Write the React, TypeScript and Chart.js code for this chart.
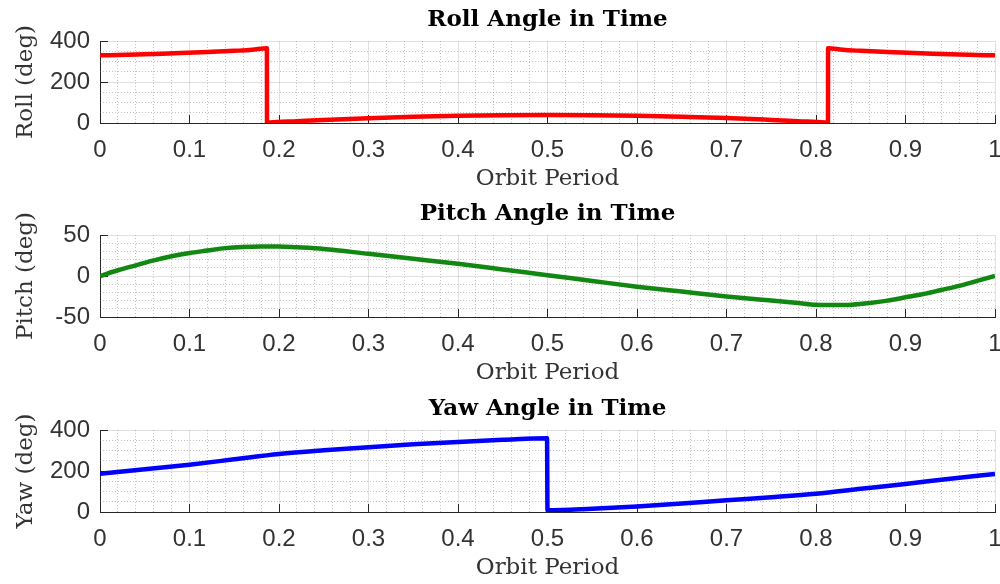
import { useEffect, useRef } from "react";
import { Chart, registerables } from "chart.js";

Chart.register(...registerables);

// Shared time axis labels (fraction of one orbit)
const orbitTicks = ["0", "0.1", "0.2", "0.3", "0.4", "0.5", "0.6", "0.7", "0.8", "0.9", "1"];

// Roll angle (deg) against orbit period
const rollT = [
  0, 0.03, 0.06, 0.09, 0.12, 0.15, 0.17, 0.1865,
  0.1866, 0.19, 0.22, 0.25, 0.3, 0.35, 0.4, 0.45, 0.5, 0.55, 0.6, 0.65, 0.7, 0.75, 0.78, 0.81, 0.8134,
  0.8135, 0.83, 0.85, 0.88, 0.91, 0.94, 0.97, 1,
];
const rollDeg = [
  330, 333, 337, 341, 346, 352, 357, 365,
  2, 3, 9, 15, 23, 30, 35, 38, 39, 38, 35, 30, 24, 15, 9, 3, 2,
  365, 357, 352, 346, 341, 337, 333, 330,
];
const rollTicks = ["0", "200", "400"];

// Pitch angle (deg) against orbit period
const pitchT = [
  0, 0.02, 0.04, 0.06, 0.08, 0.1, 0.12, 0.14, 0.16, 0.18, 0.2, 0.22, 0.25, 0.3, 0.35, 0.4, 0.45,
  0.5, 0.55, 0.6, 0.65, 0.7, 0.75, 0.78, 0.8, 0.82, 0.84, 0.86, 0.88, 0.9, 0.92, 0.94, 0.96, 0.98, 1,
];
const pitchDeg = [
  0, 7, 13, 19, 24, 28, 31, 34, 35.5, 36, 36, 35, 33, 27, 21, 15, 8,
  1, -6, -13, -19, -25, -30, -33, -35, -35.5, -35, -33, -30, -26, -22, -17, -12, -6, 0,
];
const pitchTicks = ["-50", "0", "50"];

// Yaw angle (deg) against orbit period
const yawT = [
  0, 0.05, 0.1, 0.15, 0.2, 0.25, 0.3, 0.35, 0.4, 0.45, 0.4995,
  0.5, 0.55, 0.6, 0.65, 0.7, 0.75, 0.8, 0.85, 0.9, 0.95, 1,
];
const yawDeg = [
  187, 208, 231, 257, 283, 301, 316, 330, 342, 352, 360,
  8, 16, 27, 41, 57, 72, 89, 113, 137, 162, 186,
];
const yawTicks = ["0", "200", "400"];

const INK = "#262626";
const LABEL = "#333333";

// Dotted minor grid plus inward-pointing major tick marks
const axesDecor = {
  id: "axesDecor",
  beforeDatasetsDraw(chart: any, _args: any, opts: any) {
    const { ctx, chartArea: a, scales } = chart;
    const x = scales.x;
    const y = scales.y;
    ctx.save();
    ctx.lineWidth = 1;
    ctx.strokeStyle = "rgba(120,120,120,0.45)";
    ctx.setLineDash([1, 2]);
    ctx.beginPath();
    const nx = Math.round((x.max - x.min) / opts.xMinor);
    const rx = Math.round(opts.xMajor / opts.xMinor);
    for (let i = 1; i < nx; i++) {
      if (i % rx === 0) continue;
      const px = Math.round(x.getPixelForValue(x.min + i * opts.xMinor) - 0.5) + 0.5;
      ctx.moveTo(px, a.top);
      ctx.lineTo(px, a.bottom);
    }
    const ny = Math.round((y.max - y.min) / opts.yMinor);
    const ry = Math.round(opts.yMajor / opts.yMinor);
    for (let i = 1; i < ny; i++) {
      if (i % ry === 0) continue;
      const py = Math.round(y.getPixelForValue(y.min + i * opts.yMinor) - 0.5) + 0.5;
      ctx.moveTo(a.left, py);
      ctx.lineTo(a.right, py);
    }
    ctx.stroke();
    ctx.setLineDash([]);
    ctx.strokeStyle = INK;
    ctx.beginPath();
    x.ticks.forEach((t: any) => {
      const px = Math.round(x.getPixelForValue(t.value) - 0.5) + 0.5;
      ctx.moveTo(px, a.bottom);
      ctx.lineTo(px, a.bottom - 8);
    });
    y.ticks.forEach((t: any) => {
      const py = Math.round(y.getPixelForValue(t.value) - 0.5) + 0.5;
      ctx.moveTo(a.left, py);
      ctx.lineTo(a.left + 8, py);
    });
    ctx.stroke();
    ctx.restore();
  },
};

type PanelProps = {
  top: number;
  title: string;
  yTitle: string;
  t: number[];
  v: number[];
  color: string;
  yMin: number;
  yMax: number;
  yStep: number;
  yTickLabels: string[];
  yMinor: number;
};

function Panel(p: PanelProps) {
  const ref = useRef<HTMLCanvasElement>(null);

  useEffect(() => {
    if (!ref.current) return;
    const chart = new Chart(ref.current, {
      type: "line",
      data: {
        datasets: [
          {
            data: p.t.map((tt, i) => ({ x: tt, y: p.v[i] })),
            borderColor: p.color,
            borderWidth: 4.5,
            pointRadius: 0,
            cubicInterpolationMode: "monotone",
            fill: false,
          },
        ],
      },
      options: {
        animation: false,
        responsive: false,
        devicePixelRatio: 1,
        layout: { padding: { left: 0, right: 5, top: 0, bottom: 0 } },
        plugins: {
          legend: { display: false },
          tooltip: { enabled: false },
          title: {
            display: true,
            text: p.title,
            fullSize: false,
            color: "#000",
            font: { family: "'DejaVu Serif'", size: 23, weight: "bold" },
            padding: { top: 6, bottom: 7.4 },
          },
          axesDecor: { xMinor: 0.02, xMajor: 0.1, yMinor: p.yMinor, yMajor: p.yStep },
        } as any,
        scales: {
          x: {
            type: "linear",
            min: 0,
            max: 1,
            ticks: {
              stepSize: 0.1,
              autoSkip: false,
              maxRotation: 0,
              padding: 13,
              color: LABEL,
              font: { family: "'Liberation Sans'", size: 24 },
              callback: (_v: any, i: number) => orbitTicks[i],
            },
            grid: { color: "rgba(0,0,0,0.12)", lineWidth: 1, drawTicks: false },
            border: { display: true, color: INK, width: 1 },
            title: {
              display: true,
              text: "Orbit Period",
              color: LABEL,
              font: { family: "'DejaVu Serif'", size: 23 },
              padding: { top: 0, bottom: 2 },
            },
            afterFit: (s: any) => {
              s.height = 72;
              s.paddingLeft = 0;
              s.paddingRight = 0;
            },
          },
          y: {
            type: "linear",
            min: p.yMin,
            max: p.yMax,
            ticks: {
              stepSize: p.yStep,
              padding: 10,
              color: LABEL,
              font: { family: "'Liberation Sans'", size: 24 },
              callback: (_v: any, i: number) => p.yTickLabels[i],
            },
            grid: { color: "rgba(0,0,0,0.12)", lineWidth: 1, drawTicks: false },
            border: { display: true, color: INK, width: 1 },
            title: {
              display: true,
              text: p.yTitle,
              color: LABEL,
              font: { family: "'DejaVu Serif'", size: 23 },
              padding: { top: 12, bottom: 0 },
            },
            afterFit: (s: any) => {
              s.width = 100;
              s.paddingTop = 0;
              s.paddingBottom = 0;
            },
          },
        },
      },
      plugins: [axesDecor],
    } as any);
    return () => chart.destroy();
  }, []);

  return (
    <canvas
      ref={ref}
      width={1000}
      height={195}
      style={{ position: "absolute", left: 0, top: p.top, display: "block" }}
    />
  );
}

export default function App() {
  return (
    <div
      style={{
        position: "fixed",
        left: 0,
        top: 0,
        width: 1000,
        height: 584,
        background: "#fff",
        overflow: "hidden",
      }}
    >
      <Panel
        top={0}
        title="Roll Angle in Time"
        yTitle="Roll (deg)"
        t={rollT}
        v={rollDeg}
        color="#ff0000"
        yMin={0}
        yMax={400}
        yStep={200}
        yTickLabels={rollTicks}
        yMinor={50}
      />
      <Panel
        top={194}
        title="Pitch Angle in Time"
        yTitle="Pitch (deg)"
        t={pitchT}
        v={pitchDeg}
        color="rgb(18,136,18)"
        yMin={-50}
        yMax={50}
        yStep={50}
        yTickLabels={pitchTicks}
        yMinor={10}
      />
      <Panel
        top={389}
        title="Yaw Angle in Time"
        yTitle="Yaw (deg)"
        t={yawT}
        v={yawDeg}
        color="#0000ff"
        yMin={0}
        yMax={400}
        yStep={200}
        yTickLabels={yawTicks}
        yMinor={50}
      />
    </div>
  );
}
